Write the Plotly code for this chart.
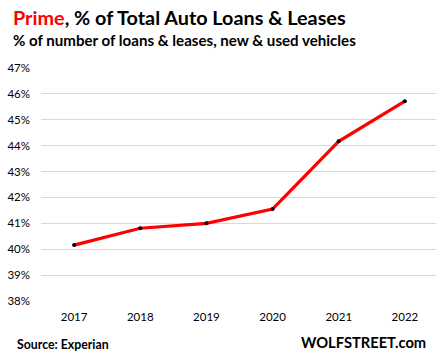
import plotly.graph_objects as go

years = [2017, 2018, 2019, 2020, 2021, 2022]
prime_pct = [40.16, 40.81, 41.0, 41.55, 44.17, 45.72]
y_ticks = [38, 39, 40, 41, 42, 43, 44, 45, 46, 47]
y_tick_labels = [f"{v}%" for v in y_ticks]

FONT = "Lato, 'Open Sans', sans-serif"

W, H = 436, 361
l, r, t, b = 41, 0, 68, 60

fig = go.Figure()
fig.add_trace(go.Scatter(
    x=years, y=prime_pct, mode="lines+markers",
    line=dict(color="#ff0000", width=3.2),
    marker=dict(color="#000000", size=4),
    hoverinfo="skip", showlegend=False,
))

fig.update_layout(
    width=W, height=H,
    margin=dict(l=l, r=r, t=t, b=b),
    paper_bgcolor="white", plot_bgcolor="white",
    font=dict(family=FONT, color="#000000", size=11),
    xaxis=dict(
        range=[2016.5, 2022.47], tickmode="array", tickvals=years,
        ticktext=[str(y) for y in years], showgrid=False, zeroline=False,
        showline=False, ticks="", ticklabelstandoff=7, tickfont=dict(size=11.5),
    ),
    yaxis=dict(
        range=[38, 47], tickmode="array", tickvals=y_ticks, ticktext=y_tick_labels,
        showgrid=True, gridcolor="#d9d9d9", gridwidth=1, zeroline=False,
        showline=False, ticks="", ticklabelstandoff=10, tickfont=dict(size=11.5),
    ),
)

pw, ph = W - l - r, H - t - b
def px(x, y):
    return (x - l) / pw, 1 - (y - t) / ph

texts = [
    ("<b><span style='color:#ff0000'>Prime</span>, % of Total Auto Loans &amp; Leases</b>", 11, 17, "left", 19.8),
    ("<b>% of number of loans &amp; leases, new &amp; used vehicles</b>", 11, 40, "left", 15.1),
    ("<b>Source: Experian</b>", 15, 344, "left", 12.3),
    ("<b>WOLFSTREET.com</b>", 428, 342, "right", 14.7),
]
for txt, x, y, anchor, size in texts:
    ax, ay = px(x, y)
    fig.add_annotation(text=txt, x=ax, y=ay, xref="paper", yref="paper",
                       showarrow=False, xanchor=anchor, yanchor="middle",
                       font=dict(size=size, family=FONT))

fig.write_html("out.html", config={"displayModeBar": False},
               post_script="document.body.style.margin='0';")
